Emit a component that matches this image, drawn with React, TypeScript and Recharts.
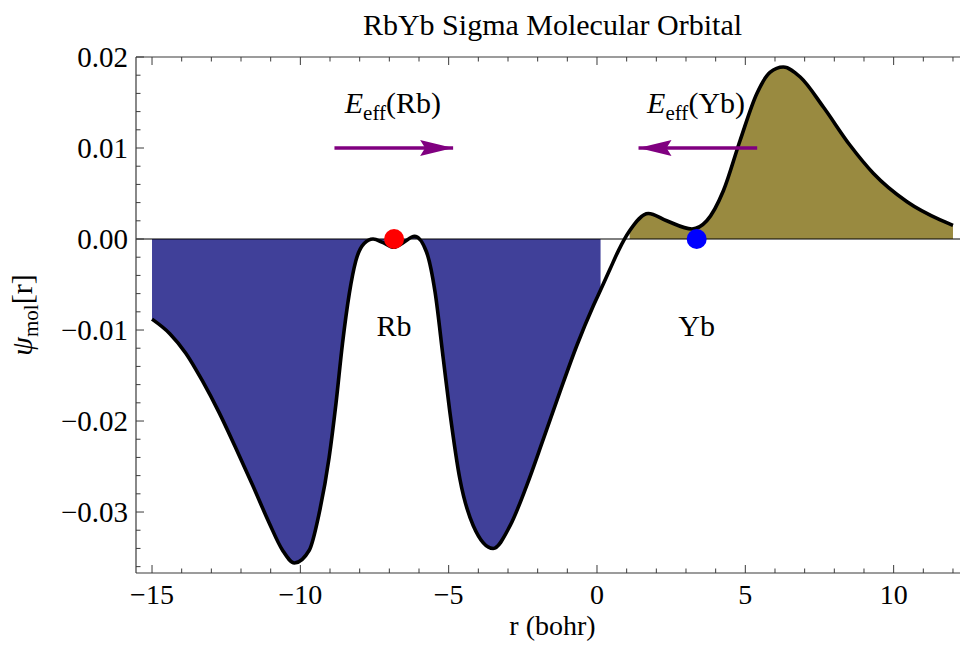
import React from 'react';
import { ComposedChart, Area, Line, XAxis, YAxis, ReferenceLine, ReferenceDot, Label } from 'recharts';

// sampled from the plotted molecular orbital (r in bohr)
const rValues = [
  -15.0, -14.4, -13.85, -13.3, -12.75, -12.2, -11.6, -11.05, -10.6, -10.2,
  -9.7, -9.37, -9.03, -8.8, -8.58, -8.35, -8.13, -7.85, -7.55, -7.21,
  -6.85, -6.53, -6.15, -5.75, -5.46, -5.18, -4.96, -4.62, -4.17, -3.5,
  -2.93, -2.37, -1.81, -1.25, -0.68, -0.12, 0.12, 0.44, 0.72, 1.1,
  1.73, 2.35, 3.2, 3.7, 4.26, 4.82, 5.39, 5.83, 6.28, 6.85,
  7.63, 8.53, 9.32, 10.45, 11.57, 12.0,
];
const psiValues = [
  -0.0088, -0.0104, -0.0126, -0.0156, -0.019, -0.0228, -0.0271, -0.0312, -0.0342, -0.0356,
  -0.0342, -0.0302, -0.024, -0.0181, -0.0115, -0.006, -0.0024, -0.0005, 0.0, -0.0004,
  -0.0009, -0.0004, 0.0003, -0.0014, -0.0058, -0.0132, -0.019, -0.0264, -0.0315, -0.034,
  -0.0315, -0.0271, -0.022, -0.0168, -0.0117, -0.0073, -0.0056, -0.0033, -0.0013, 0.0009,
  0.0028, 0.002, 0.0011, 0.002, 0.0053, 0.0108, 0.016, 0.0183, 0.0189, 0.0178,
  0.0145, 0.0103, 0.0072, 0.0041, 0.0021, 0.0015,
];

const negFillEnd = 0.12;
const posFillStart = 1.1;

const xTicks = [-15, -14, -13, -12, -11, -10, -9, -8, -7, -6, -5, -4, -3, -2, -1, 0, 1, 2, 3, 4, 5, 6, 7, 8, 9, 10, 11, 12];
const yTicks = [
  -0.036, -0.034, -0.032, -0.03, -0.028, -0.026, -0.024, -0.022, -0.02, -0.018, -0.016, -0.014,
  -0.012, -0.01, -0.008, -0.006, -0.004, -0.002, 0, 0.002, 0.004, 0.006, 0.008, 0.01, 0.012,
  0.014, 0.016, 0.018, 0.02,
];

const nuclei = [
  { name: 'Rb', r: -6.84, color: '#ff0000', labelY: -0.0107 },
  { name: 'Yb', r: 3.36, color: '#0000ff', labelY: -0.0107 },
];
const arrows = [
  { name: 'Rb', from: -8.85, to: -4.85, labelR: -6.88 },
  { name: 'Yb', from: 5.4, to: 1.4, labelR: 3.34 },
];
const arrowY = 0.01;
const arrowLabelY = 0.0138;

const FONT = '"Liberation Serif", "Times New Roman", serif';
const FRAME = '#3a3a3a';
const BLUE = '#404099';
const OLIVE = '#998a40';
const PURPLE = '#800080';

const data = rValues.map((r, i) => ({
  r,
  psi: psiValues[i],
  neg: r <= negFillEnd ? psiValues[i] : null,
  pos: r >= posFillStart ? psiValues[i] : null,
}));

const minus = (s: string) => s.replace('-', '\u2212');
const isMajorX = (v: number) => Math.abs(v % 5) < 1e-9;
const isMajorY = (v: number) => Math.abs(v * 100 - Math.round(v * 100)) < 1e-6;

function BottomTick(props: any) {
  const { x, y, payload } = props;
  const v = payload.value;
  const major = isMajorX(v);
  return (
    <g>
      <line x1={x} x2={x} y1={y} y2={y - (major ? 8 : 4.5)} stroke={FRAME} strokeWidth={1} />
      {major && (
        <text x={x} y={y + 31} textAnchor="middle" fontSize={28} fontFamily={FONT} fill="#000">
          {minus(String(v))}
        </text>
      )}
    </g>
  );
}

function TopTick(props: any) {
  const { x, y, payload } = props;
  const major = isMajorX(payload.value);
  return <line x1={x} x2={x} y1={y} y2={y + (major ? 8 : 4.5)} stroke={FRAME} strokeWidth={1} />;
}

function LeftTick(props: any) {
  const { x, y, payload } = props;
  const v = payload.value;
  const major = isMajorY(v);
  return (
    <g>
      <line x1={x} x2={x + (major ? 8 : 4.5)} y1={y} y2={y} stroke={FRAME} strokeWidth={1} />
      {major && (
        <text x={x - 8} y={y + 9.5} textAnchor="end" fontSize={29} fontFamily={FONT} fill="#000">
          {minus(v.toFixed(2))}
        </text>
      )}
    </g>
  );
}

function TitleLabel(props: any) {
  const { viewBox } = props;
  return (
    <text x={viewBox.x + viewBox.width / 2} y={35} textAnchor="middle" fontSize={30} fontFamily={FONT} fill="#000">
      RbYb Sigma Molecular Orbital
    </text>
  );
}

function XLabel(props: any) {
  const { viewBox } = props;
  return (
    <text x={viewBox.x + viewBox.width / 2} y={635} textAnchor="middle" fontSize={28} fontFamily={FONT} fill="#000">
      r (bohr)
    </text>
  );
}

function YLabel(props: any) {
  const { viewBox } = props;
  const cx = 32;
  const cy = viewBox.y + viewBox.height / 2;
  return (
    <text transform={`rotate(-90, ${cx}, ${cy})`} x={cx} y={cy} textAnchor="middle" fontSize={30} fontFamily={FONT} fill="#000">
      <tspan fontStyle="italic">ψ</tspan>
      <tspan fontSize={21} dy={6}>mol</tspan>
      <tspan dy={-6}>[r]</tspan>
    </text>
  );
}

function ArrowHead(dir: number) {
  return (props: any) => {
    const { cx, cy } = props;
    const pts = [
      [0, 0],
      [-33, -8],
      [-28, 0],
      [-33, 8],
    ]
      .map(([dx, dy]) => `${cx + dir * dx},${cy + dy}`)
      .join(' ');
    return <polygon points={pts} fill={PURPLE} />;
  };
}

function EffLabel(atom: string) {
  return (props: any) => (
    <text x={props.cx} y={props.cy} textAnchor="middle" fontSize={30} fontFamily={FONT} fill="#000">
      <tspan fontStyle="italic">E</tspan>
      <tspan fontSize={21} dy={7}>eff</tspan>
      <tspan dy={-7}>({atom})</tspan>
    </text>
  );
}

function AtomLabel(atom: string) {
  return (props: any) => (
    <text x={props.cx} y={props.cy} textAnchor="middle" fontSize={30} fontFamily={FONT} fill="#000">
      {atom}
    </text>
  );
}

export default function App() {
  return (
    <div style={{ position: 'absolute', left: 0, top: 0, width: 960, height: 650, overflow: 'hidden', background: '#fff' }}>
      <ComposedChart width={969} height={650} data={data} margin={{ top: 0, right: 0, bottom: 0, left: 0 }}>
        <XAxis
          dataKey="r"
          type="number"
          domain={[-15.54, 12.54]}
          allowDataOverflow
          ticks={xTicks}
          interval={0}
          height={77}
          tickSize={0}
          tickMargin={0}
          tickLine={false}
          tick={<BottomTick />}
          axisLine={{ stroke: FRAME, strokeWidth: 1.2 }}
        >
          <Label content={<XLabel />} />
        </XAxis>
        <XAxis
          xAxisId="top"
          orientation="top"
          dataKey="r"
          type="number"
          domain={[-15.54, 12.54]}
          allowDataOverflow
          ticks={xTicks}
          interval={0}
          height={57}
          tickSize={0}
          tickMargin={0}
          tickLine={false}
          tick={<TopTick />}
          axisLine={{ stroke: FRAME, strokeWidth: 1.2 }}
        >
          <Label content={<TitleLabel />} />
        </XAxis>
        <YAxis
          type="number"
          domain={[-0.0367, 0.02]}
          allowDataOverflow
          ticks={yTicks}
          interval={0}
          width={136}
          tickSize={0}
          tickMargin={0}
          tickLine={false}
          tick={<LeftTick />}
          axisLine={{ stroke: FRAME, strokeWidth: 1.2 }}
        >
          <Label content={<YLabel />} />
        </YAxis>
        <Area dataKey="neg" type="monotone" baseValue={0} fill={BLUE} fillOpacity={1} stroke="none" isAnimationActive={false} />
        <Area dataKey="pos" type="monotone" baseValue={0} fill={OLIVE} fillOpacity={1} stroke="none" isAnimationActive={false} />
        <ReferenceLine y={0} stroke="#000" strokeWidth={1} />
        <Line dataKey="psi" type="monotone" stroke="#000" strokeWidth={3.6} dot={false} activeDot={false} isAnimationActive={false} />
        {nuclei.map((n) => (
          <ReferenceDot key={n.name} x={n.r} y={0} r={10} fill={n.color} stroke="none" ifOverflow="visible" />
        ))}
        {nuclei.map((n) => (
          <ReferenceDot key={n.name + '-label'} x={n.r} y={n.labelY} r={0} shape={AtomLabel(n.name)} ifOverflow="visible" />
        ))}
        {arrows.map((a) => (
          <ReferenceLine
            key={a.name + '-shaft'}
            segment={[{ x: a.from, y: arrowY }, { x: a.to, y: arrowY }]}
            stroke={PURPLE}
            strokeWidth={3.3}
          />
        ))}
        {arrows.map((a) => (
          <ReferenceDot
            key={a.name + '-head'}
            x={a.to}
            y={arrowY}
            r={0}
            shape={ArrowHead(a.to > a.from ? 1 : -1)}
            ifOverflow="visible"
          />
        ))}
        {arrows.map((a) => (
          <ReferenceDot key={a.name + '-text'} x={a.labelR} y={arrowLabelY} r={0} shape={EffLabel(a.name)} ifOverflow="visible" />
        ))}
      </ComposedChart>
    </div>
  );
}
